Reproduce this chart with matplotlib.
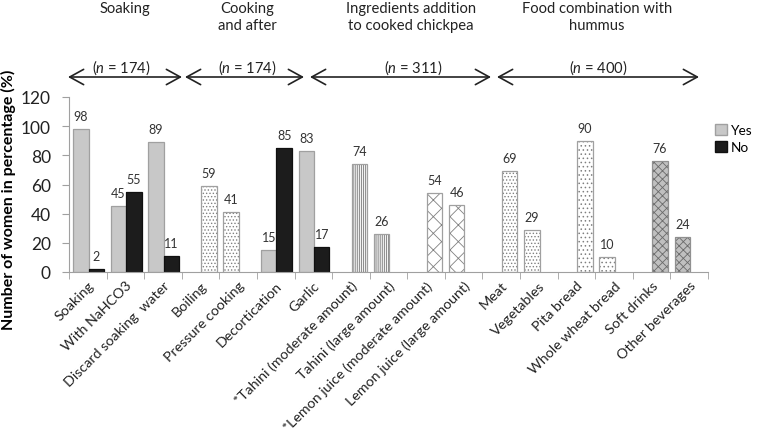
import numpy as np
import matplotlib
matplotlib.use("Agg")
import matplotlib.pyplot as plt
from matplotlib.patches import Patch

plt.rcParams['font.family'] = ['Lato', 'DejaVu Sans']
plt.rcParams['mathtext.fontset'] = 'custom'
plt.rcParams['mathtext.it'] = 'Lato:italic'
plt.rcParams['mathtext.rm'] = 'Lato'
plt.rcParams['hatch.linewidth'] = 0.6

# data
labels = ['Soaking', 'With NaHCO3', 'Discard soaking  water', 'Boiling',
          'Pressure cooking', 'Decortication', 'Garlic',
          '*Tahini (moderate amount)', 'Tahini (large amount)',
          '*Lemon juice (moderate amount)', 'Lemon juice (large amount)',
          'Meat', 'Vegetables', 'Pita bread', 'Whole wheat bread',
          'Soft drinks', 'Other beverages']
nan = np.nan
# left slot of each category / right slot of each category
left_vals = [98, 45, 89, nan, 41, 15, 83, nan, 26, nan, 46, nan, 29, nan, 10, nan, 24]
right_vals = [2, 55, 11, 59, nan, 85, 17, 74, nan, 54, nan, 69, nan, 90, nan, 76, nan]
pattern = ['yn', 'yn', 'yn', 'dot', 'dot', 'yn', 'yn', 'tahini', 'tahini',
           'lemon', 'lemon', 'dot', 'dot', 'sparse', 'sparse', 'soft', 'soft']

groups = ['Soaking', 'Cooking\nand after', 'Ingredients addition\nto cooked chickpea',
          'Food combination with\nhummus']
group_n = [174, 174, 311, 400]

# styles: face, hatch colour, hatch, edge
styles = {
    'yes': ('#c8c8c8', '#c8c8c8', None, '#a0a0a0'),
    'no': ('#1c1c1c', '#1c1c1c', None, '#101010'),
    'dot': ('white', '#808080', '.....', '#a0a0a0'),
    'tahini': ('#f2f2f2', '#7a7a7a', '||||||||', '#a0a0a0'),
    'lemon': ('white', '#808080', 'xx', '#a0a0a0'),
    'sparse': ('white', '#808080', '....', '#a0a0a0'),
    'soft': ('#c0c0c0', '#6a6a6a', 'xxxx', '#909090'),
}

fig = plt.figure(figsize=(7.6, 4.35), dpi=100)
ax = fig.add_axes([69/760, 162/435, 639/760, 175/435])

w = 0.41
centers = np.arange(len(labels)) + 0.52


def draw(xpos, val, key):
    face, hcol, hatch, edge = styles[key]
    ax.bar(xpos, val, w, color=face, edgecolor=hcol, hatch=hatch, linewidth=0)
    ax.bar(xpos, val, w, fill=False, edgecolor=edge, linewidth=0.9)
    ax.annotate(f'{val:g}', (xpos, val), xytext=(0, 5), textcoords='offset points',
                ha='center', va='bottom', fontsize=9, color='#333333')


for i, c in enumerate(centers):
    p = pattern[i]
    if not np.isnan(left_vals[i]):
        draw(c - w/2, left_vals[i], 'yes' if p == 'yn' else p)
    if not np.isnan(right_vals[i]):
        draw(c + w/2, right_vals[i], 'no' if p == 'yn' else p)

ax.set_xlim(0, len(labels))
ax.set_ylim(0, 120)
ax.set_yticks(np.arange(0, 121, 20))
ax.set_xticks(np.arange(len(labels)) + 0.5)
ax.set_xticklabels(labels, rotation=45, ha='right', rotation_mode='anchor', fontsize=10.3,
                   color='#222222')
ax.set_xticks(np.arange(len(labels) + 1), minor=True)
ax.tick_params(axis='x', which='major', length=0, pad=5)
ax.tick_params(axis='x', which='minor', length=5, color='#a0a0a0')
ax.tick_params(axis='y', length=5, color='#a0a0a0', labelsize=12.5, labelcolor='#222222', pad=8)
for s in ['top', 'right']:
    ax.spines[s].set_visible(False)
for s in ['left', 'bottom']:
    ax.spines[s].set_color('#a0a0a0')

ax.set_ylabel('Number of women in percentage (%)', fontweight='bold', fontsize=11.5)
ax.yaxis.set_label_coords(-0.083, 0.42)

# group headers and arrows
head_x = [125, 247, 411, 597]
spans = [(68, 182), (185, 304), (310, 491), (497, 699)]
n_x = [121, 247, 413, 598]
for g, cx in zip(groups, head_x):
    fig.text(cx/760, 1 - 2/435, g, ha='center', va='top', fontsize=10.6,
             linespacing=1.3, color='#222222')
for nn, cx in zip(group_n, n_x):
    fig.text(cx/760, 1 - 68/435, f'($n$ = {nn})', ha='center', va='center',
             fontsize=10.6, color='#222222')
for a, b in spans:
    ax.annotate('', xy=(b, 435 - 78), xytext=(a, 435 - 78), xycoords='figure pixels',
                arrowprops=dict(arrowstyle='<->,head_length=1.0,head_width=0.55',
                                lw=1.2, color='#222222', mutation_scale=10,
                                shrinkA=0, shrinkB=0), annotation_clip=False)

handles = [Patch(facecolor='#c8c8c8', edgecolor='#a0a0a0'),
           Patch(facecolor='#1c1c1c', edgecolor='#101010')]
fig.legend(handles, ['Yes', 'No'], loc='upper left', bbox_to_anchor=(712/760, 1 - 122/435),
           frameon=False, fontsize=9.8, handlelength=0.9, handleheight=0.9,
           handletextpad=0.3, labelspacing=0.35, borderaxespad=0, borderpad=0.2)

fig.savefig('out.png', dpi=100)
